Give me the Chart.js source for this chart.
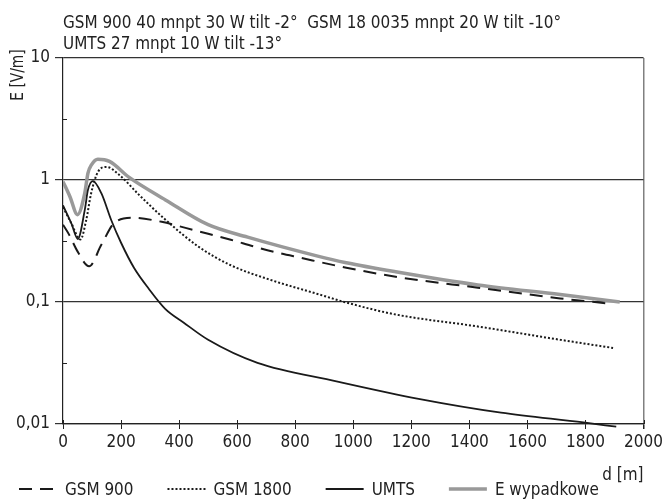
<!DOCTYPE html>
<html>
<head>
<meta charset="utf-8">
<script src="https://cdn.jsdelivr.net/npm/chart.js@4.4.1/dist/chart.umd.min.js"></script>
<style>
  html, body { margin: 0; padding: 0; background: #fff; overflow: hidden; }
  #wrap { width: 666px; height: 501px; position: relative; }
</style>
</head>
<body>
<div id="wrap"><canvas id="chart"></canvas></div>
<script>
// Field strength E [V/m] vs distance d [m] for three base station systems + resultant

const titleLines = [
    'GSM 900 40 mnpt 30 W tilt -2°  GSM 18 0035 mnpt 20 W tilt -10°',
    'UMTS 27 mnpt 10 W tilt -13°'
];
const yTitle = 'E [V/m]';
const xTitle = 'd [m]';
const yTicks = [0.01, 0.1, 1, 10];
const yMinorTicks = [0.0316, 0.316, 3.16];

// GSM 900 (dashed)
const gsm900D = [0, 20, 50, 90, 132, 177, 240, 340, 422, 500, 578, 660, 738, 816, 976, 1146, 1429, 1713, 1884];
const gsm900E = [0.43, 0.36, 0.26, 0.196, 0.294, 0.445, 0.49, 0.454, 0.405, 0.362, 0.324, 0.284, 0.254, 0.231, 0.191, 0.161, 0.131, 0.107, 0.097];

// GSM 1800 (dotted)
const gsm1800D = [0, 29, 60, 80, 97, 120, 150, 194, 262, 354, 466, 578, 714, 874, 976, 1146, 1429, 1713, 1895];
const gsm1800E = [0.6, 0.44, 0.325, 0.47, 0.78, 1.16, 1.28, 1.1, 0.755, 0.47, 0.285, 0.2, 0.152, 0.117, 0.099, 0.079, 0.063, 0.049, 0.042];

// UMTS (solid)
const umtsD = [0, 29, 51, 75, 86, 103, 132, 166, 200, 245, 296, 352, 415, 500, 670, 942, 1225, 1509, 1793, 1906];
const umtsE = [0.62, 0.44, 0.328, 0.569, 0.83, 0.98, 0.78, 0.47, 0.306, 0.19, 0.128, 0.088, 0.068, 0.049, 0.0317, 0.0224, 0.0161, 0.0124, 0.0103, 0.0095];

// E wypadkowe (grey, resultant)
const totalD = [0, 24, 50, 75, 86, 98, 120, 160, 228, 353, 500, 636, 874, 976, 1146, 1429, 1713, 1918];
const totalE = [0.97, 0.73, 0.52, 0.78, 1.14, 1.33, 1.48, 1.42, 1.05, 0.687, 0.43, 0.34, 0.239, 0.21, 0.177, 0.138, 0.115, 0.1];

const FONT_FAMILY = "'Liberation Sans Narrow', 'DejaVu Sans Condensed', 'Arial Narrow', sans-serif";
const TEXT_COLOR = '#222';
const NARROW = 0.94; // squeeze plugin-drawn text a bit, the original face is condensed

Chart.defaults.font.family = FONT_FAMILY;
Chart.defaults.font.size = 17;
Chart.defaults.color = TEXT_COLOR;

function toPoints(xs, ys) {
    return xs.map((x, i) => ({ x: x, y: ys[i] }));
}

// draw text squeezed horizontally, anchored at its left edge
function narrowText(ctx, text, x, y) {
    ctx.save();
    ctx.translate(x, y);
    ctx.scale(NARROW, 1);
    ctx.fillText(text, 0, 0);
    ctx.restore();
    return ctx.measureText(text).width * NARROW;
}

// Title, axis titles, inner ticks and legend drawn on top of the chart
const extras = {
    id: 'extras',
    afterDraw(chart) {
        const ctx = chart.ctx;
        const area = chart.chartArea;
        const xs = chart.scales.x;
        const ys = chart.scales.y;
        ctx.save();
        ctx.fillStyle = TEXT_COLOR;
        ctx.font = '18px ' + FONT_FAMILY;
        ctx.textAlign = 'left';
        ctx.textBaseline = 'alphabetic';

        // title lines
        titleLines.forEach((t, i) => narrowText(ctx, t, area.left, 28 + i * 21));

        // x axis title, right aligned to the plot edge
        const xw = ctx.measureText(xTitle).width * NARROW;
        narrowText(ctx, xTitle, area.right - xw, 480);

        // y axis title, rotated
        ctx.save();
        ctx.translate(23, 75);
        ctx.rotate(-Math.PI / 2);
        ctx.textAlign = 'center';
        ctx.font = '17px ' + FONT_FAMILY;
        ctx.scale(0.9, 1);
        ctx.fillText(yTitle, 0, 0);
        ctx.restore();

        // small inner ticks
        ctx.strokeStyle = '#222';
        ctx.lineWidth = 1;
        xs.ticks.forEach(t => {
            const px = Math.round(xs.getPixelForValue(t.value)) + 0.5;
            ctx.beginPath();
            ctx.moveTo(px, area.bottom - 4);
            ctx.lineTo(px, area.bottom);
            ctx.stroke();
        });
        yMinorTicks.forEach(v => {
            const py = Math.round(ys.getPixelForValue(v)) + 0.5;
            ctx.beginPath();
            ctx.moveTo(area.left, py);
            ctx.lineTo(area.left + 4, py);
            ctx.stroke();
        });

        // legend
        const legendY = 489;
        let x = 19;
        ctx.textBaseline = 'middle';
        chart.data.datasets.forEach(ds => {
            ctx.save();
            ctx.strokeStyle = ds.borderColor;
            ctx.lineWidth = ds.borderWidth;
            ctx.setLineDash(ds.borderDash || []);
            ctx.beginPath();
            ctx.moveTo(x, legendY);
            ctx.lineTo(x + 38, legendY);
            ctx.stroke();
            ctx.restore();
            const w = narrowText(ctx, ds.label, x + 46, legendY + 1);
            x += 46 + w + 34;
        });
        ctx.restore();
    }
};

new Chart(document.getElementById('chart'), {
    type: 'line',
    data: {
        datasets: [
            {
                label: 'GSM 900',
                data: toPoints(gsm900D, gsm900E),
                borderColor: '#1a1a1a',
                borderWidth: 2,
                borderDash: [13, 8]
            },
            {
                label: 'GSM 1800',
                data: toPoints(gsm1800D, gsm1800E),
                borderColor: '#1a1a1a',
                borderWidth: 2,
                borderDash: [2, 2]
            },
            {
                label: 'UMTS',
                data: toPoints(umtsD, umtsE),
                borderColor: '#1a1a1a',
                borderWidth: 1.8,
                clip: { left: 0, top: 0, right: 0, bottom: 5 }
            },
            {
                label: 'E wypadkowe',
                data: toPoints(totalD, totalE),
                borderColor: '#999999',
                borderWidth: 3.5
            }
        ]
    },
    options: {
        responsive: true,
        maintainAspectRatio: false,
        animation: false,
        devicePixelRatio: 1,
        layout: { padding: { top: 58, right: 15, bottom: 0, left: 0 } },
        elements: {
            point: { radius: 0, hoverRadius: 0 },
            line: { cubicInterpolationMode: 'monotone', fill: false }
        },
        plugins: {
            legend: { display: false },
            title: { display: false },
            tooltip: { enabled: false }
        },
        scales: {
            x: {
                type: 'linear',
                min: 0,
                max: 2000,
                afterFit: s => { s.height = 77; },
                ticks: {
                    stepSize: 200,
                    autoSkip: false,
                    maxRotation: 0,
                    padding: 3,
                    color: TEXT_COLOR,
                    callback: v => String(v)
                },
                grid: {
                    drawOnChartArea: true,
                    color: c => (c.tick && c.tick.value === 2000) ? '#808080' : 'rgba(0,0,0,0)',
                    lineWidth: c => (c.tick && c.tick.value === 2000) ? 1.5 : 1,
                    tickColor: '#222',
                    tickLength: 5
                },
                border: { color: '#222', width: 1.2 }
            },
            y: {
                type: 'logarithmic',
                min: 0.01,
                max: 10,
                afterBuildTicks: s => { s.ticks = yTicks.map(v => ({ value: v })); },
                afterFit: s => { s.width = 63; },
                ticks: {
                    autoSkip: false,
                    padding: 5,
                    color: TEXT_COLOR,
                    callback: v => String(v).replace('.', ',')
                },
                grid: {
                    color: '#333',
                    lineWidth: 1.2,
                    tickLength: 8
                },
                border: { color: '#222', width: 1.2 }
            }
        }
    },
    plugins: [extras]
});
</script>
</body>
</html>
